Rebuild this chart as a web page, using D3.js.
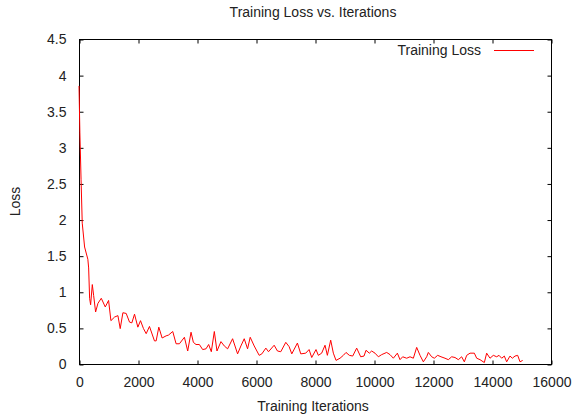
<!DOCTYPE html>
<html>
<head>
<meta charset="utf-8">
<script src="https://cdn.jsdelivr.net/npm/d3@7"></script>
<style>
  html, body { margin: 0; padding: 0; background: #fff; }
  svg { display: block; }
  text { font-family: "Liberation Sans", Arial, Helvetica, sans-serif; font-size: 14px; fill: #222; }
</style>
</head>
<body>
<svg id="chart" width="574" height="417"></svg>
<script>
// ---- data ----
const iterations = [
  0, 30, 70, 110, 190, 300, 327, 360, 394, 451, 496, 563, 642, 755, 890,
  1003, 1082, 1206, 1319, 1397, 1488, 1600, 1713, 1792, 1882, 1995,
  2085, 2186, 2277, 2389, 2558, 2615, 2705, 2818, 2953,
  3032, 3178, 3291, 3404, 3573, 3685, 3798, 3877, 3967,
  4080, 4192, 4305, 4395, 4485, 4587, 4677, 4812, 4925,
  5038, 5207, 5376, 5488, 5601, 5714, 5804, 5939,
  6108, 6198, 6334, 6424, 6615, 6728, 6840,
  7010, 7123, 7213, 7404, 7517, 7686, 7799, 7889,
  8034, 8113, 8226, 8340, 8419, 8532, 8622, 8713, 8848, 8961,
  9051, 9164, 9278, 9413, 9549, 9662, 9729, 9842, 9921,
  10034, 10148, 10261, 10430, 10543, 10656, 10792, 10882, 10972,
  11108, 11221, 11334, 11447, 11560, 11673, 11786, 11842, 11955,
  12045, 12158, 12271, 12407, 12520, 12633, 12746, 12859, 12972,
  13062, 13142, 13255, 13401, 13481, 13594, 13740, 13819, 13932,
  14045, 14159, 14238, 14328, 14418, 14497, 14610, 14690, 14780, 14870, 14950,
  15040
];
const trainingLoss = [
  3.85, 3.2, 2.55, 1.95, 1.62, 1.45, 1.33, 0.91, 0.82, 1.10, 0.95, 0.72, 0.84, 0.91, 0.79,
  0.88, 0.60, 0.65, 0.67, 0.49, 0.71, 0.70, 0.58, 0.57, 0.69, 0.51,
  0.60, 0.49, 0.42, 0.52, 0.32, 0.32, 0.51, 0.36, 0.39,
  0.40, 0.45, 0.28, 0.28, 0.37, 0.18, 0.44, 0.30, 0.27,
  0.27, 0.20, 0.21, 0.27, 0.17, 0.45, 0.18, 0.31, 0.25,
  0.21, 0.35, 0.14, 0.25, 0.35, 0.21, 0.37, 0.25,
  0.12, 0.14, 0.22, 0.17, 0.26, 0.18, 0.17,
  0.30, 0.24, 0.14, 0.29, 0.14, 0.15, 0.20, 0.09,
  0.20, 0.12, 0.15, 0.26, 0.12, 0.33, 0.15, 0.05, 0.08, 0.12,
  0.16, 0.12, 0.11, 0.22, 0.10, 0.11, 0.19, 0.15, 0.18,
  0.15, 0.10, 0.13, 0.16, 0.13, 0.08, 0.15, 0.06, 0.10,
  0.08, 0.10, 0.08, 0.23, 0.12, 0.03, 0.10, 0.16, 0.10,
  0.08, 0.12, 0.10, 0.08, 0.06, 0.10, 0.09, 0.06, 0.10,
  0.03, 0.12, 0.15, 0.15, 0.08, 0.06, 0.02, 0.15, 0.08,
  0.12, 0.10, 0.12, 0.08, 0.11, 0.03, 0.11, 0.08, 0.11, 0.12, 0.03,
  0.05
];
const xTicks = [0, 2000, 4000, 6000, 8000, 10000, 12000, 14000, 16000];
const yTicks = [0, 0.5, 1, 1.5, 2, 2.5, 3, 3.5, 4, 4.5];
const xTickLabels = ["0", "2000", "4000", "6000", "8000", "10000", "12000", "14000", "16000"];
const yTickLabels = ["0", "0.5", "1", "1.5", "2", "2.5", "3", "3.5", "4", "4.5"];
const titleText = "Training Loss vs. Iterations";
const xLabel = "Training Iterations";
const yLabel = "Loss";
const seriesName = "Training Loss";

// ---- layout ----
const plot = { left: 79, right: 551, top: 39, bottom: 364 };
const svg = d3.select("#chart");

const x = d3.scaleLinear().domain([0, 16000]).range([plot.left, plot.right]);
const y = d3.scaleLinear().domain([0, 4.5]).range([plot.bottom, plot.top]);

const g = svg.append("g").attr("transform", "translate(0.5,0.5)");

// axes (inward ticks on all four sides)
const bottomAxis = d3.axisBottom(x).tickValues(xTicks)
  .tickFormat((d, i) => xTickLabels[i]).tickSizeInner(-4).tickSizeOuter(0).tickPadding(13);
const topAxis = d3.axisTop(x).tickValues(xTicks).tickFormat("").tickSizeInner(-4).tickSizeOuter(0);
const leftAxis = d3.axisLeft(y).tickValues(yTicks)
  .tickFormat((d, i) => yTickLabels[i]).tickSizeInner(-4).tickSizeOuter(0).tickPadding(13);
const rightAxis = d3.axisRight(y).tickValues(yTicks).tickFormat("").tickSizeInner(-4).tickSizeOuter(0);

function styleAxis(sel) {
  sel.select(".domain").remove();
  sel.selectAll(".tick line").attr("stroke", "#000").attr("stroke-width", 1);
  sel.selectAll(".tick text")
    .attr("font-family", null).attr("font-size", null)
    .style("font-family", '"Liberation Sans", Arial, sans-serif')
    .style("font-size", "14px").attr("fill", "#222");
}

g.append("g").attr("transform", `translate(0,${plot.bottom})`).call(bottomAxis).call(styleAxis);
g.append("g").attr("transform", `translate(0,${plot.top})`).call(topAxis).call(styleAxis);
g.append("g").attr("transform", `translate(${plot.left},0)`).call(leftAxis).call(styleAxis);
g.append("g").attr("transform", `translate(${plot.right},0)`).call(rightAxis).call(styleAxis);

// frame
g.append("rect")
  .attr("x", plot.left).attr("y", plot.top)
  .attr("width", plot.right - plot.left).attr("height", plot.bottom - plot.top)
  .attr("fill", "none").attr("stroke", "#000").attr("stroke-width", 1);

// data line
const data = iterations.map((it, i) => ({ it, loss: trainingLoss[i] }));
svg.append("path")
  .datum(data)
  .attr("fill", "none")
  .attr("stroke", "#ff0000")
  .attr("stroke-width", 1)
  .attr("d", d3.line().x(d => x(d.it)).y(d => y(d.loss)));

// title
svg.append("text")
  .attr("x", (plot.left + plot.right) / 2 - 2).attr("y", 17)
  .attr("text-anchor", "middle").text(titleText);

// axis labels
svg.append("text")
  .attr("x", (plot.left + plot.right) / 2 - 2).attr("y", 411)
  .attr("text-anchor", "middle").text(xLabel);

svg.append("text")
  .attr("transform", `translate(20,${(plot.top + plot.bottom) / 2}) rotate(-90)`)
  .attr("text-anchor", "middle").text(yLabel);

// legend
svg.append("text")
  .attr("x", 481).attr("y", 55)
  .attr("text-anchor", "end").text(seriesName);
svg.append("line")
  .attr("x1", 494).attr("x2", 534).attr("y1", 50.5).attr("y2", 50.5)
  .attr("stroke", "#ff0000").attr("stroke-width", 1);
</script>
</body>
</html>
